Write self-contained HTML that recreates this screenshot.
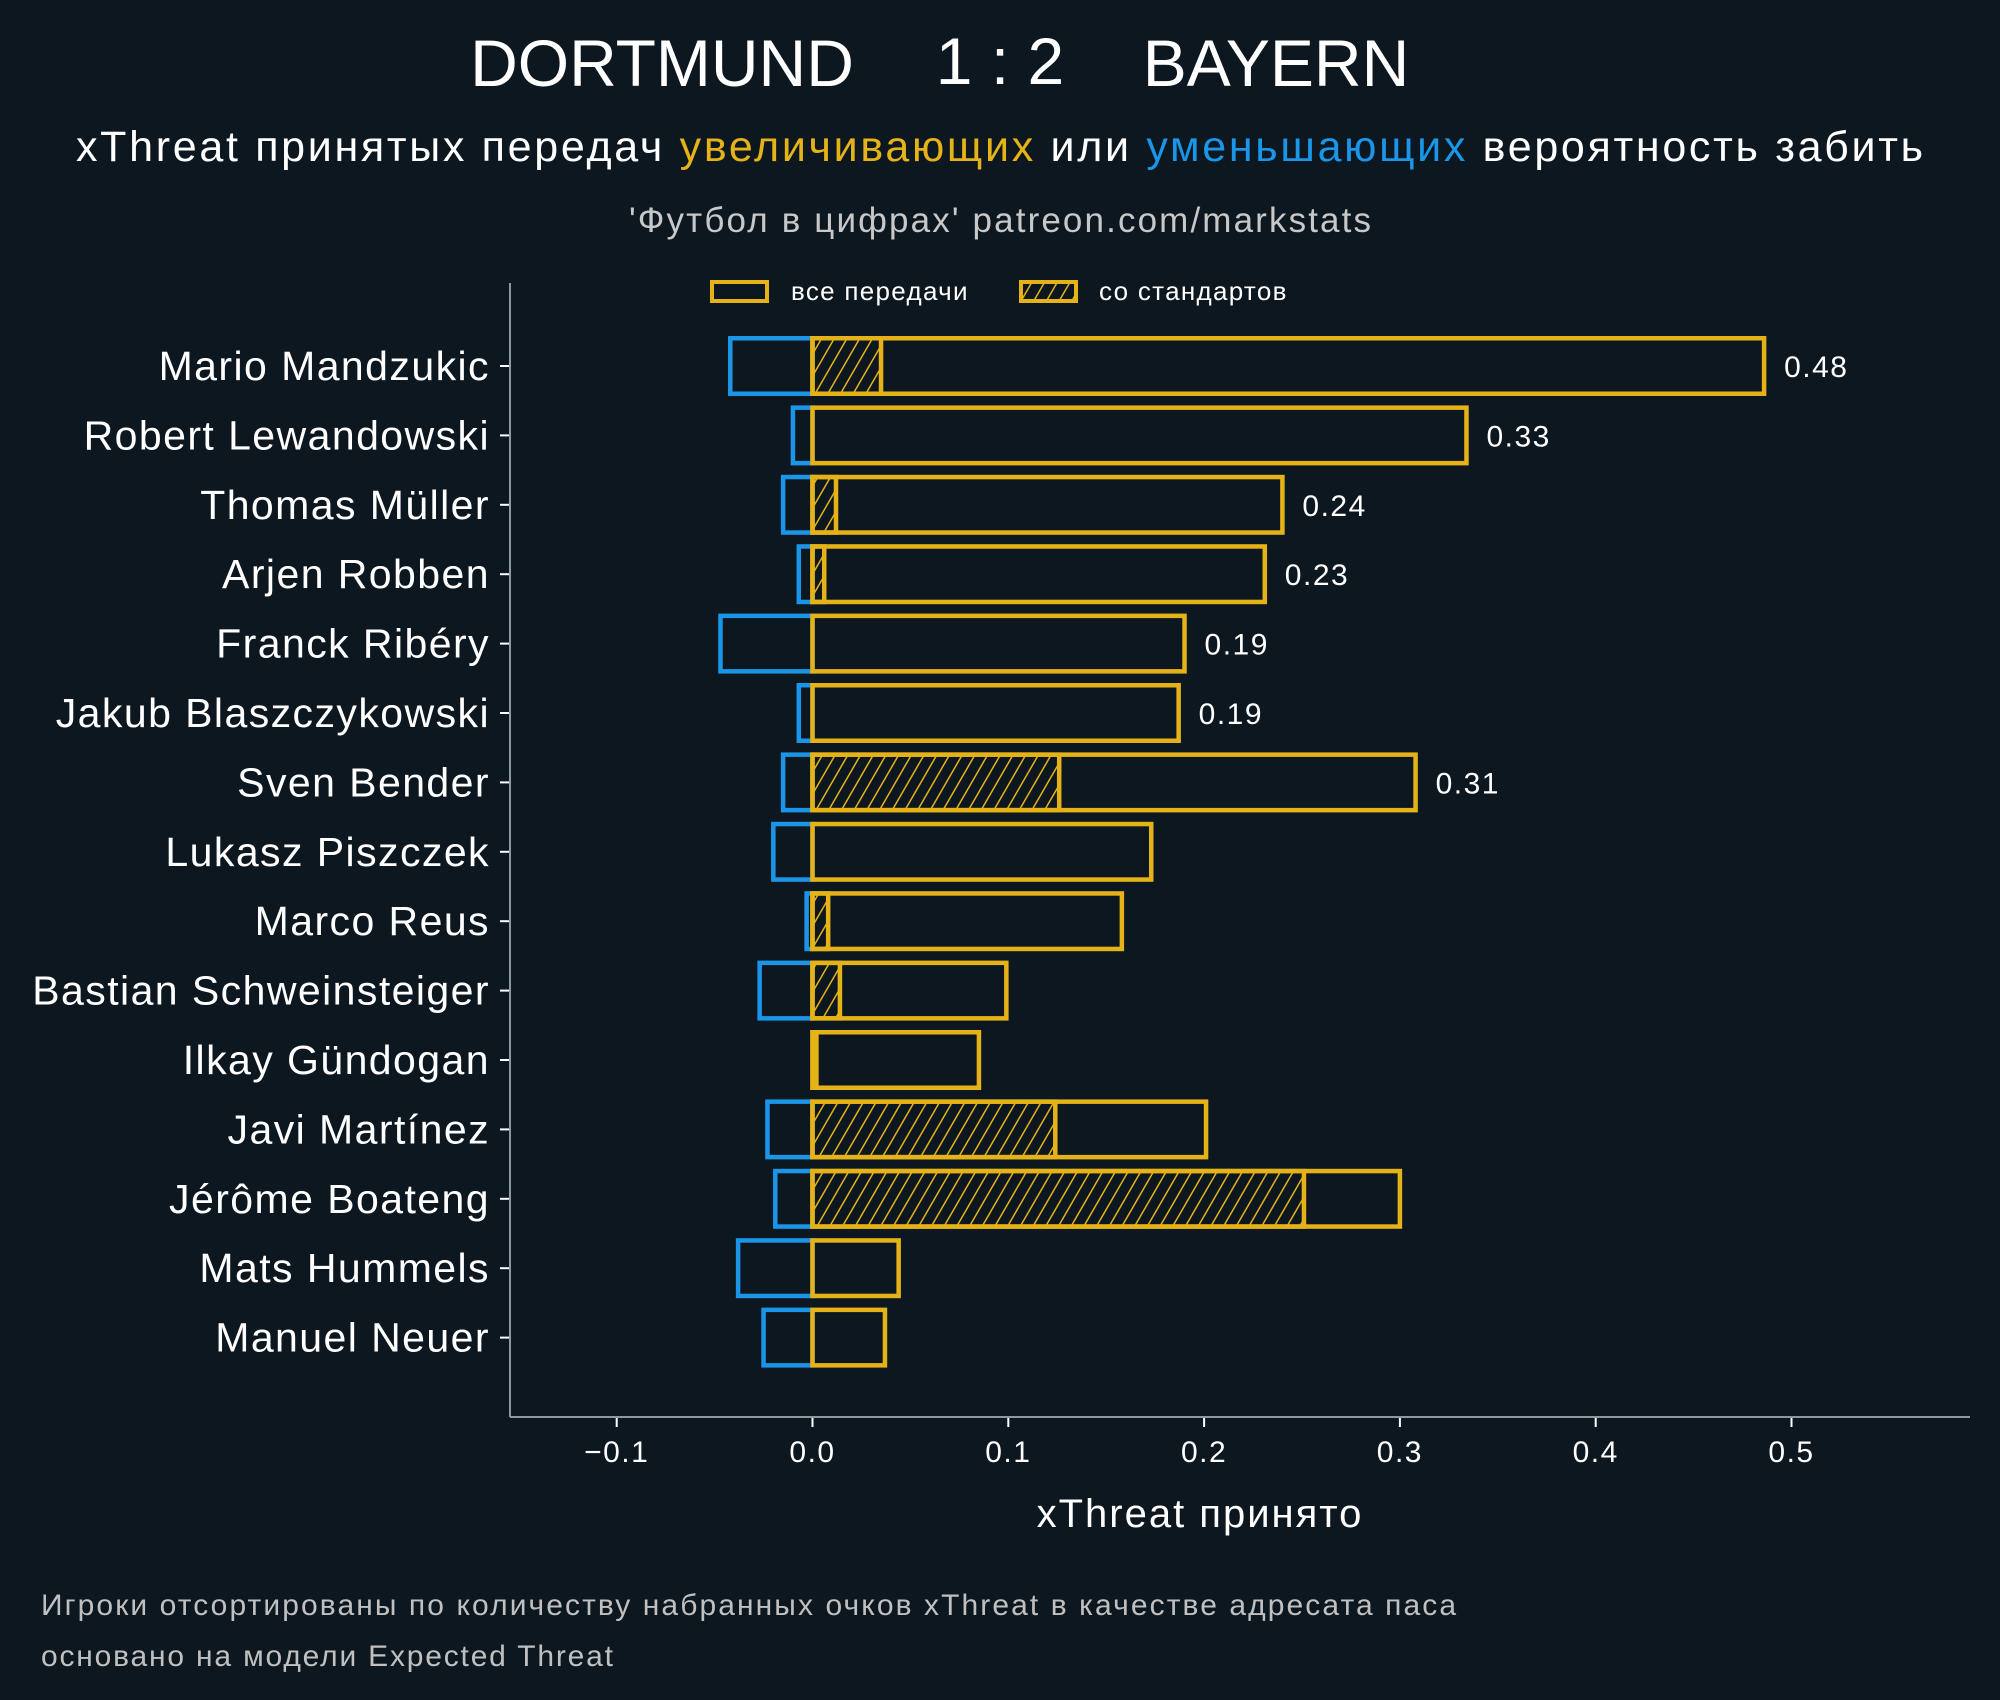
<!DOCTYPE html>
<html><head><meta charset="utf-8"><style>
body{margin:0;background:#0d1720;}
svg{display:block;font-family:"Liberation Sans","DejaVu Sans",sans-serif;}
.w{letter-spacing:0.05em;}
.l{letter-spacing:0.035em;}
</style></head><body>
<svg id="chart" width="2000" height="1700" viewBox="0 0 2000 1700">
<defs>
<pattern id="hatch" patternUnits="userSpaceOnUse" width="11" height="11" patternTransform="rotate(30)">
<line x1="0" y1="0" x2="0" y2="11" stroke="#e5b317" stroke-width="3"/>
</pattern>
</defs>
<rect width="2000" height="1700" fill="#0d1720"/>
<g fill="#fff" font-size="66" text-anchor="middle">
<text x="662" y="86">DORTMUND</text>
<text x="1000" y="84">1 : 2</text>
<text x="1276" y="86">BAYERN</text>
</g>
<text x="76" y="161" font-size="43" fill="#fff" textLength="1847" lengthAdjust="spacing">xThreat принятых передач <tspan fill="#e5b317">увеличивающих</tspan> или <tspan fill="#1a95e8">уменьшающих</tspan> вероятность забить</text>
<text x="629" y="232" font-size="35" fill="#c8c8c8" textLength="742" lengthAdjust="spacing">'Футбол в цифрах' patreon.com/markstats</text>
<g>
<rect x="712" y="282" width="55" height="19" fill="none" stroke="#e5b317" stroke-width="4"/>
<text x="791" y="300" font-size="26" fill="#fff" class="w">все передачи</text>
<rect x="1021" y="282" width="55" height="19" fill="url(#hatch)" stroke="#e5b317" stroke-width="4"/>
<text x="1099" y="300" font-size="26" fill="#fff" class="w">со стандартов</text>
</g>
<g id="axes"></g>
<g id="bars"></g>
<text x="1200" y="1527" font-size="40" fill="#fff" text-anchor="middle" class="w">xThreat принято</text>
<text x="41" y="1615" font-size="30" fill="#c0c0c0" textLength="1415" lengthAdjust="spacing">Игроки отсортированы по количеству набранных очков xThreat в качестве адресата паса</text>
<text x="41" y="1666" font-size="30" fill="#c0c0c0" textLength="572" lengthAdjust="spacing">основано на модели Expected Threat</text>
</svg>
<script>
const players = ["Mario Mandzukic","Robert Lewandowski","Thomas Müller","Arjen Robben","Franck Ribéry","Jakub Blaszczykowski","Sven Bender","Lukasz Piszczek","Marco Reus","Bastian Schweinsteiger","Ilkay Gündogan","Javi Martínez","Jérôme Boateng","Mats Hummels","Manuel Neuer"];
const positiveXT = [0.486,0.334,0.240,0.231,0.190,0.187,0.308,0.173,0.158,0.099,0.085,0.201,0.300,0.044,0.037];
const negativeXT = [-0.042,-0.010,-0.015,-0.007,-0.047,-0.007,-0.015,-0.020,-0.003,-0.027,0.0,-0.023,-0.019,-0.038,-0.025];
const setPieceXT = [0.035,0,0.012,0.006,0,0,0.126,0,0.008,0.014,0.002,0.124,0.251,0,0];
const valueLabels = ["0.48","0.33","0.24","0.23","0.19","0.19","0.31"];
const xTicks = [-0.1,0.0,0.1,0.2,0.3,0.4,0.5];
const tickLabels = ["\u22120.1","0.0","0.1","0.2","0.3","0.4","0.5"];

const NS="http://www.w3.org/2000/svg";
const X0=812.5, XS=1958;
const x = v => X0 + v*XS;
const y = i => 366 + i*69.4;
const BH = 55.5;
function mk(tag, attrs, parent){const e=document.createElementNS(NS,tag);for(const k in attrs)e.setAttribute(k,attrs[k]);parent.appendChild(e);return e;}
const axes=document.getElementById('axes'), bars=document.getElementById('bars');

let e=mk('line',{x1:510,y1:283,x2:510,y2:1417,stroke:'#8a9aa0','stroke-width':2},axes);


e=mk('line',{x1:510,y1:1417,x2:1970,y2:1417,stroke:'#8a9aa0','stroke-width':2},axes);



xTicks.forEach((t,i)=>{
  const tk=mk('line',{x1:x(t),y1:1418,x2:x(t),y2:1427,stroke:'#fff','stroke-width':2},axes);
  
  
  const tl=mk('text',{x:x(t),y:1462,'font-size':30,fill:'#fff','text-anchor':'middle','class':'w'},axes);
  tl.textContent=tickLabels[i];
  
  
});

players.forEach((p,i)=>{
  const cy=y(i);
  const tk=mk('line',{x1:500,y1:cy,x2:509,y2:cy,stroke:'#fff','stroke-width':2},axes);
  
  
  const lb=mk('text',{x:490,y:cy+14,'font-size':41,fill:'#fff','text-anchor':'end','class':'l'},axes);
  lb.textContent=p;
  
  

  const n=negativeXT[i];
  if(n<0){
    const r=mk('rect',{x:x(n),y:cy-BH/2,width:x(0)-x(n),height:BH,fill:'none',stroke:'#1a95e8','stroke-width':4.5},bars);
    
    
  }
  const sp=setPieceXT[i];
  if(sp>0){
    const r=mk('rect',{x:x(0),y:cy-BH/2,width:x(sp)-x(0),height:BH,fill:'url(#hatch)',stroke:'#e5b317','stroke-width':4.5},bars);
    
    
  }
  const pv=positiveXT[i];
  const r=mk('rect',{x:x(0),y:cy-BH/2,width:x(pv)-x(0),height:BH,fill:'none',stroke:'#e5b317','stroke-width':4.5},bars);
  
  
  if(i<valueLabels.length){
    const t=mk('text',{x:x(pv)+20,y:cy+11,'font-size':30,fill:'#fff','class':'w'},bars);
    t.textContent=valueLabels[i];
    
    
  }
});
</script>
</body></html>
